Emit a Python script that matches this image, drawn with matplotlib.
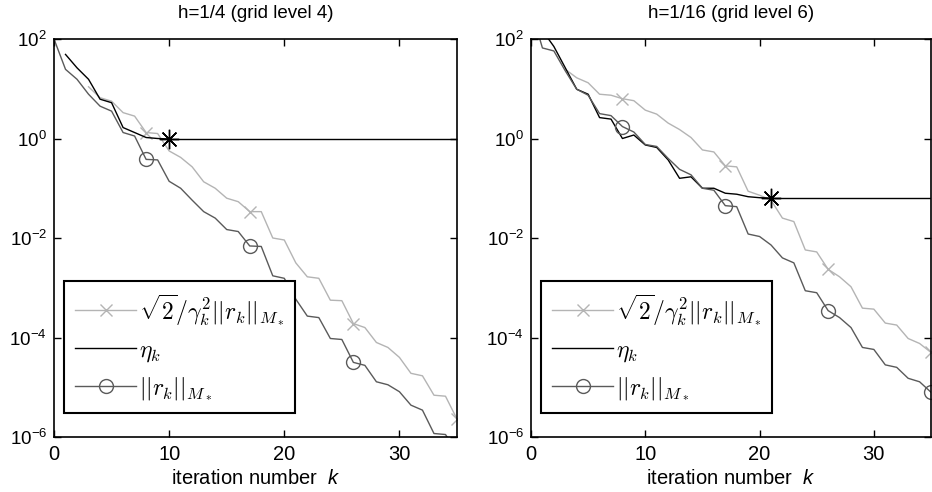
import numpy as np
import matplotlib
matplotlib.use("Agg")
import matplotlib.pyplot as plt
from matplotlib.font_manager import FontProperties

plt.rcParams['font.family'] = ['Liberation Sans', 'DejaVu Sans']
plt.rcParams['mathtext.fontset'] = 'custom'
plt.rcParams['mathtext.rm'] = 'Liberation Sans'
plt.rcParams['mathtext.it'] = 'Liberation Sans:italic'

# values, as log10 of the plotted quantity
titles = ["h=1/4 (grid level 4)", "h=1/16 (grid level 6)"]
marker_k = [8, 17, 26, 35]

# ||r_k||_{M*}, k = 0..35
left_res_log10 = [2.0, 1.39, 1.19, 0.89, 0.65, 0.55, 0.12, 0.05, -0.42, -0.43,
                  -0.86, -1.0, -1.24, -1.47, -1.6, -1.83, -1.87, -2.16, -2.17, -2.76,
                  -2.81, -3.23, -3.57, -3.6, -4.02, -4.04, -4.5, -4.56, -4.89, -4.95,
                  -5.09, -5.36, -5.46, -5.93, -5.95, -6.3]
right_res_log10 = [2.6, 1.82, 1.76, 1.36, 0.99, 0.87, 0.5, 0.46, 0.24, 0.13,
                   -0.12, -0.16, -0.4, -0.62, -0.73, -1.0, -1.04, -1.35, -1.37, -1.92,
                   -1.97, -2.14, -2.4, -2.5, -3.06, -3.1, -3.46, -3.6, -3.8, -4.2,
                   -4.24, -4.55, -4.6, -4.82, -4.89, -5.1]

# sqrt(2)/gamma_k^2 ||r_k||_{M*}, k = 3..35
left_est_log10 = [1.04, 0.82, 0.75, 0.52, 0.45, 0.12, 0.10, -0.25, -0.38, -0.57,
                  -0.87, -1.0, -1.2, -1.27, -1.47, -1.47, -2.0, -2.04, -2.5, -2.78,
                  -2.81, -3.25, -3.26, -3.72, -3.8, -4.1, -4.2, -4.4, -4.72, -4.77,
                  -5.16, -5.18, -5.64]
right_est_log10 = [1.39, 1.22, 1.12, 0.89, 0.87, 0.8, 0.76, 0.57, 0.49, 0.31,
                   0.18, 0.02, -0.23, -0.27, -0.55, -0.57, -1.06, -1.14, -1.24, -1.6,
                   -1.67, -2.24, -2.28, -2.63, -2.78, -2.98, -3.41, -3.43, -3.71, -3.75,
                   -4.02, -4.12, -4.3]

# eta_k, k = 1..k_stop
left_eta_log10 = [1.69, 1.42, 1.19, 0.79, 0.72, 0.22, 0.12, 0.02, 0.0, -0.01]
right_eta_log10 = [2.17, 1.85, 1.42, 0.99, 0.89, 0.42, 0.39, 0.0, 0.07, -0.13,
                   -0.18, -0.43, -0.8, -0.77, -1.0, -1.0, -1.1, -1.12, -1.17, -1.19,
                   -1.2]

res_sets = [left_res_log10, right_res_log10]
est_sets = [left_est_log10, right_est_log10]
eta_sets = [left_eta_log10, right_eta_log10]

c_light = '#b4b4b4'
c_dark = '#5a5a5a'
k_max = 35

fig = plt.figure(figsize=(9.32, 4.92), dpi=100)
axes = [fig.add_axes([54 / 932, 55 / 492, 403 / 932, 398 / 492]),
        fig.add_axes([531 / 932, 55 / 492, 400 / 932, 398 / 492])]

leg_prop = FontProperties(family='DejaVu Serif', size=17, math_fontfamily='cm')

for ax, title, res, est, eta in zip(axes, titles, res_sets, est_sets, eta_sets):
    k_res = np.arange(len(res))
    k_est = np.arange(k_max + 1 - len(est), k_max + 1)
    k_eta = np.arange(1, len(eta) + 1)
    res_v = 10.0 ** np.array(res)
    est_v = 10.0 ** np.array(est)
    eta_v = 10.0 ** np.array(eta)

    h1, = ax.plot(k_est, est_v, '-', color=c_light, lw=1.0, marker='x', ms=8,
                  mew=1.0, markevery=[list(k_est).index(k) for k in marker_k])
    h2, = ax.plot(k_eta, eta_v, '-', color='black', lw=1.0)
    ax.plot([k_eta[-1], k_max], [eta_v[-1], eta_v[-1]], '-', color='black', lw=1.0)
    ax.plot([k_eta[-1]], [eta_v[-1]], linestyle='none', marker=(8, 2, 0), ms=14,
            mew=1.0, color='black')
    h3, = ax.plot(k_res, res_v, '-', color=c_dark, lw=1.0, marker='o', ms=10,
                  mfc='none', mew=1.0, markevery=marker_k)

    ax.set_yscale('log')
    ax.set_xlim(0, k_max)
    ax.set_ylim(1e-6, 1e2)
    ax.set_xticks([0, 10, 20, 30])
    ax.set_yticks([1e-6, 1e-4, 1e-2, 1e0, 1e2])
    ax.set_yticklabels([r'$\mathregular{10^{%d}}$' % e for e in [-6, -4, -2, 0, 2]])
    ax.minorticks_off()
    ax.tick_params(direction='in', top=True, right=True, labelsize=14.5,
                   length=5, width=1.0, pad=6)
    ax.tick_params(axis='y', labelsize=13.5, pad=5)
    for s in ax.spines.values():
        s.set_linewidth(1.2)
    ax.set_title(title, fontsize=13.5, pad=15)
    ax.set_xlabel(r'iteration number  $\it{k}$', fontsize=14.5, labelpad=3)

    leg = ax.legend([h1, h2, h3],
                    [r'$\sqrt{2}/\gamma_k^2||r_k||_{M_*}$', r'$\eta_k$',
                     r'$||r_k||_{M_*}$'],
                    loc='lower left', bbox_to_anchor=(0.026, 0.06),
                    borderaxespad=0, prop=leg_prop, fancybox=False,
                    framealpha=1, edgecolor='black', handlelength=2.6,
                    labelspacing=0.5, borderpad=0.45, handletextpad=0.1)
    leg.get_frame().set_linewidth(1.5)

fig.savefig('out.png', dpi=100)
